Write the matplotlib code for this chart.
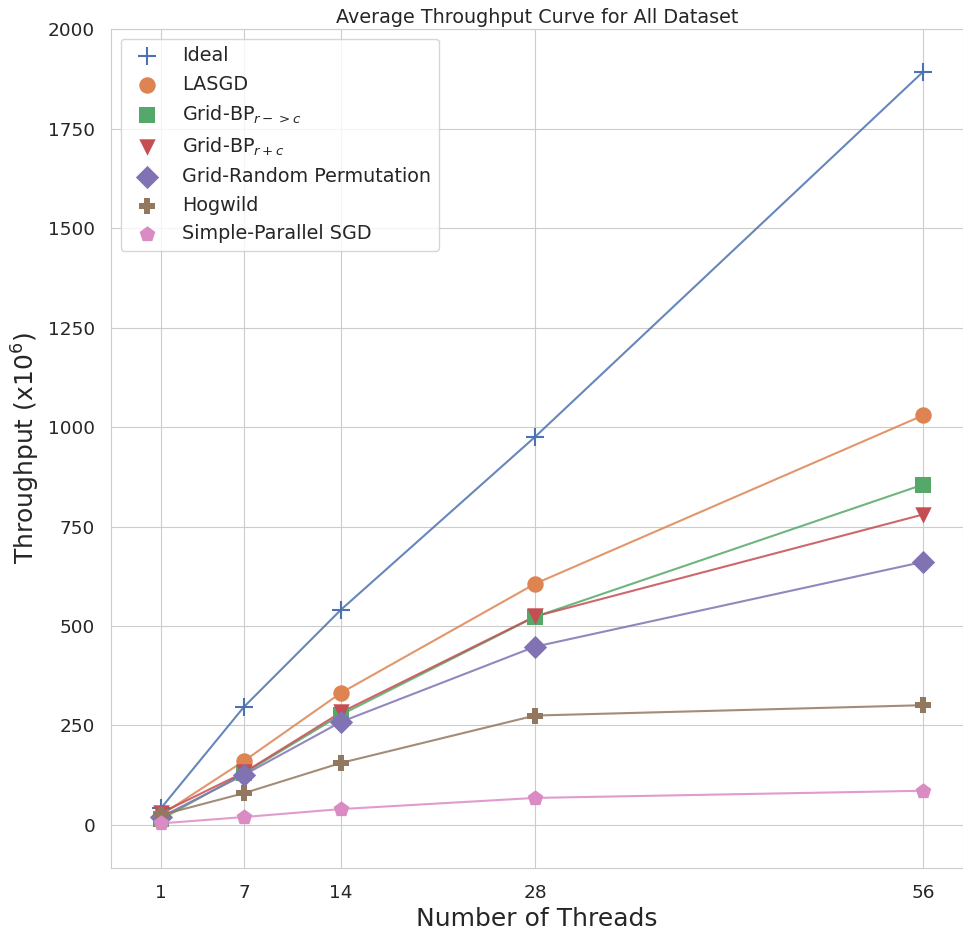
import numpy as np
import matplotlib
matplotlib.use("Agg")
import matplotlib.pyplot as plt
import seaborn as sns

threads = [1, 7, 14, 28, 56]

ideal = [42, 297, 541, 975, 1892]
lasgd = [25, 161, 332, 606, 1029]
grid_bp_rc = [14, 130, 277, 523, 855]
grid_bp_rpc = [30, 132, 283, 524, 780]
grid_random = [20, 126, 259, 448, 661]
hogwild = [25, 80, 156, 275, 301]
simple_sgd = [4, 20, 40, 68, 86]

labels = ["Ideal", "LASGD", r"Grid-BP$_{r->c}$", r"Grid-BP$_{r+c}$",
          "Grid-Random Permutation", "Hogwild", "Simple-Parallel SGD"]
markers = ["+", "o", "s", "v", "D", "P", "p"]

sns.set_style("whitegrid")
colors = sns.color_palette("deep")

fig = plt.figure(figsize=(9.63, 9.31), dpi=100)
ax = fig.add_axes([0.1153, 0.0677, 0.8847, 0.9011])

series = [ideal, lasgd, grid_bp_rc, grid_bp_rpc, grid_random, hogwild, simple_sgd]
for i, values in enumerate(series):
    ax.plot(threads, values, color=colors[i], linewidth=1.5, alpha=0.85, zorder=2)
    size = 180 if markers[i] == "+" else 140
    ax.scatter(threads, values, color=colors[i], marker=markers[i], s=size,
               label=labels[i], zorder=3, linewidths=1.5 if markers[i] == "+" else 0)

ax.set_xticks(threads)
ax.set_xlim(-2.6, 58.9)
ax.set_ylim(-108, 2000)
ax.tick_params(axis="both", labelsize=13.3, pad=8)

ax.set_xlabel("Number of Threads", fontsize=18)
ax.set_ylabel(r"Throughput (x$10^6$)", fontsize=18)
ax.set_title("Average Throughput Curve for All Dataset", fontsize=13.8, pad=4)

ax.legend(loc="upper left", fontsize=13.8, frameon=True, handletextpad=0.8)

fig.savefig("out.png", dpi=100)
